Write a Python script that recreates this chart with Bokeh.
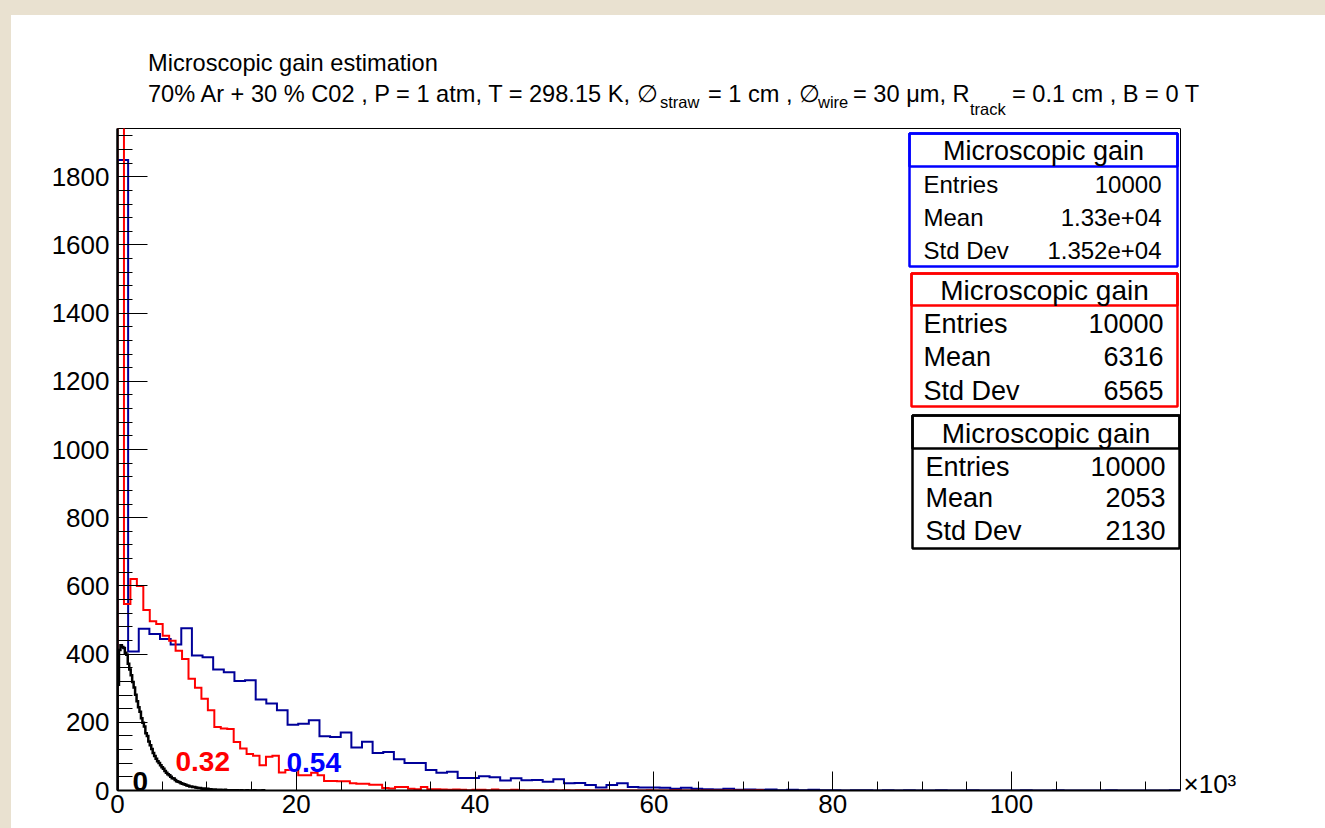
import numpy as np
from bokeh.plotting import figure
from bokeh.models import (Range1d, SingleIntervalTicker, FixedTicker, LinearAxis,
                          Label, BoxAnnotation, Div)
from bokeh.layouts import column
from bokeh.embed import file_html
from bokeh.resources import INLINE

# ---------------------------------------------------------------------------
# Histogram contents: 100 bins each, x in units of 10^3 (gain)
# ---------------------------------------------------------------------------
blue_upper = 118.9     # penning 0.54
red_upper = 72.2       # penning 0.32
black_upper = 16.4     # penning 0

blue_counts = [
    1849, 408, 474, 459, 444, 428, 476, 396, 391, 355,
    347, 321, 323, 267, 255, 235, 193, 196, 206, 159,
    157, 170, 126, 143, 110, 113, 92, 81, 81, 60,
    52, 55, 37, 37, 42, 39, 29, 36, 30, 31,
    26, 33, 21, 22, 16, 9, 16, 21, 10, 9,
    9, 8, 5, 8, 5, 4, 3, 5, 2, 3,
    2, 3, 1, 2, 1, 2, 1, 1, 0, 1,
    1, 0, 1, 0, 1, 0, 0, 1, 0, 0,
    1, 0, 0, 0, 0, 1, 0, 0, 1, 0,
    0, 0, 0, 1, 0, 0, 0, 0, 0, 1,
]

red_counts = [
    2400, 547, 620, 600, 529, 496, 488, 454, 439, 410,
    386, 328, 301, 269, 235, 186, 182, 180, 142, 123,
    107, 102, 74, 99, 102, 53, 60, 60, 45, 45,
    52, 45, 28, 28, 27, 27, 21, 20, 20, 17,
    17, 7, 6, 10, 10, 5, 4, 10, 4, 4,
    3, 2, 3, 2, 1, 2, 2, 1, 3, 1,
    1, 2, 1, 0, 1, 1, 0, 1, 0, 1,
    0, 1, 1, 0, 0, 1, 0, 0, 0, 0,
    0, 0, 1, 0, 0, 0, 1, 0, 0, 0,
    0, 0, 0, 0, 0, 0, 0, 0, 0, 1,
]

black_counts = [
    310, 412, 426, 421, 418, 404, 398, 372, 355, 338,
    318, 302, 281, 262, 244, 231, 212, 199, 188, 168,
    160, 144, 133, 122, 110, 101, 93, 86, 81, 74,
    68, 64, 57, 52, 48, 45, 40, 36, 35, 31,
    27, 26, 24, 21, 20, 18, 17, 15, 14, 12,
    12, 10, 10, 9, 8, 7, 7, 6, 5, 6,
    4, 5, 3, 4, 3, 2, 3, 2, 2, 1,
    2, 1, 1, 2, 1, 0, 1, 1, 0, 1,
    0, 1, 0, 0, 1, 0, 0, 0, 1, 0,
    0, 0, 0, 1, 0, 0, 0, 0, 0, 1,
]

curve_labels = ["0.54", "0.32", "0"]
stats_title = "Microscopic gain"
stats_rows = [
    [("Entries", "10000"), ("Mean", "1.33e+04"), ("Std Dev", "1.352e+04")],
    [("Entries", "10000"), ("Mean", "6316"), ("Std Dev", "6565")],
    [("Entries", "10000"), ("Mean", "2053"), ("Std Dev", "2130")],
]
x_multiplier = "\u00d710\u00b3"

# title pieces: (text, left px, baseline px, font px)
title_pieces = [
    ("Microscopic gain estimation", 148, 72, 23.6),
    ("70% Ar + 30 % C02 , P = 1 atm, T = 298.15 K, \u2205", 148, 103, 23.6),
    ("straw", 660, 108, 16.5),
    ("= 1 cm , \u2205", 708, 103, 23.6),
    ("wire", 818, 108, 16.5),
    ("= 30 \u03bcm, R", 853, 103, 23.6),
    ("track", 970, 115, 16.5),
    ("= 0.1 cm , B = 0 T", 1012, 103, 23.6),
]

FONT = "Liberation Sans"
NAVY, BLUE, RED, BLACK = "#000099", "#0000ff", "#ff0000", "#000000"
PAGE_BG = "#e9e1d0"

XMAX = blue_upper
YMAX = 1.05 * max(blue_counts)

# page geometry
OFF_X, OFF_Y = 11, 15                   # canvas position on the page
W, H = 1314, 813                        # canvas size
FL, FT, FR, FB = 117, 128, 1180, 790    # frame edges on the page
HEAD_H = FT - OFF_Y


def dx(px):
    return XMAX * (px - FL) / (FR - FL)


def dy(py):
    return YMAX * (FB - py) / (FB - FT)


# ---------------------------------------------------------------------------
# header strip holding the two title lines
# ---------------------------------------------------------------------------
spans = []
for text, px, base, size in title_pieces:
    top = (base - OFF_Y) - 0.8465 * size      # baseline offset for line-height 1
    spans.append(
        f'<span style="position:absolute;left:{px - OFF_X}px;top:{top:.1f}px;'
        f'font-size:{size}px;line-height:1;white-space:pre;">{text}</span>')
head = Div(text=(f'<div style="position:relative;width:{W}px;height:{HEAD_H}px;'
                 f'background:white;color:black;font-family:\'{FONT}\';">'
                 + "".join(spans) + "</div>"),
           width=W, height=HEAD_H, margin=(OFF_Y, 0, 0, OFF_X))

# ---------------------------------------------------------------------------
# main histogram panel
# ---------------------------------------------------------------------------
p = figure(width=W, height=H - HEAD_H, title=None,
           x_range=Range1d(0, XMAX), y_range=Range1d(0, YMAX),
           output_backend="svg", toolbar_location=None,
           min_border_left=FL - OFF_X, min_border_top=0,
           min_border_right=OFF_X + W - FR, min_border_bottom=OFF_Y + H - FB)
p.margin = (0, 0, 0, OFF_X)
p.background_fill_color = "white"
p.border_fill_color = "white"
p.outline_line_color = "black"
p.outline_line_width = 1
p.xgrid.visible = False
p.ygrid.visible = False

# axes: ROOT style, ticks pointing into the frame
p.xaxis.ticker = SingleIntervalTicker(interval=20, num_minor_ticks=4)
p.yaxis.ticker = SingleIntervalTicker(interval=200, num_minor_ticks=5)
for ax in (p.xaxis, p.yaxis):
    ax.major_tick_out = 0
    ax.minor_tick_out = 0
    ax.major_tick_line_color = "black"
    ax.minor_tick_line_color = "black"
    ax.major_label_text_font = FONT
    ax.major_label_text_font_size = "26px"
    ax.major_label_text_color = "black"
    ax.axis_line_color = "black"
p.xaxis.major_tick_in = 19
p.xaxis.minor_tick_in = 9
p.yaxis.major_tick_in = 30
p.yaxis.minor_tick_in = 15
p.xaxis.axis_line_width = 2
p.yaxis.axis_line_width = 2.5
p.xaxis.major_label_standoff = 4
p.yaxis.major_label_standoff = 8

# x-axis multiplier written at the right end of the x axis
mult_at = 20
mult_axis = LinearAxis(ticker=FixedTicker(ticks=[mult_at]),
                       major_label_overrides={mult_at: x_multiplier},
                       axis_line_color=None, major_tick_line_color=None,
                       minor_tick_line_color=None, major_tick_out=0, major_tick_in=0,
                       major_label_standoff=3,
                       major_label_text_font=FONT,
                       major_label_text_font_size="26px",
                       major_label_text_color="black")
p.add_layout(mult_axis, "right")


def outline(upper, counts):
    edges = np.linspace(0.0, upper, len(counts) + 1)
    xs = np.repeat(edges, 2)
    ys = np.concatenate([[0], np.repeat(np.asarray(counts, float), 2), [0]])
    return xs, ys


for upper, counts, color, lw in [(blue_upper, blue_counts, NAVY, 2),
                                 (red_upper, red_counts, RED, 2),
                                 (black_upper, black_counts, BLACK, 2.5)]:
    xs, ys = outline(upper, counts)
    p.line(xs, ys, line_color=color, line_width=lw, line_join="miter")


def label(text, px, py, size, color="black", align="left",
          baseline="alphabetic", style="normal"):
    # position given in page pixels, converted to frame-relative screen units
    p.add_layout(Label(x=px - FL, y=FB - py, x_units="screen", y_units="screen",
                       text=text, text_font=FONT,
                       text_font_size=size, text_color=color,
                       text_align=align, text_baseline=baseline,
                       text_font_style=style))


# curve labels
label(curve_labels[0], 286, 762, "28px", BLUE, style="bold")
label(curve_labels[1], 175, 761, "28px", RED, style="bold")
label(curve_labels[2], 132, 781, "28px", BLACK, style="bold")

# statistics boxes
boxes = [
    dict(color=BLUE, l=909, r=1177, t=133, b=266, sep=166, head="27px", body="24px",
         tx_l=923, tx_r=1161, rows_y=[184, 217, 250]),
    dict(color=RED, l=911, r=1177, t=273, b=406, sep=305, head="28px", body="27px",
         tx_l=923, tx_r=1163, rows_y=[323, 356, 390]),
    dict(color=BLACK, l=912, r=1179, t=415, b=548, sep=448, head="28px", body="27px",
         tx_l=925, tx_r=1165, rows_y=[466, 497, 530]),
]
for box, rows in zip(boxes, stats_rows):
    p.add_layout(BoxAnnotation(left=dx(box["l"]), right=dx(box["r"]),
                               top=dy(box["t"]), bottom=dy(box["b"]),
                               fill_color="white", fill_alpha=1.0,
                               line_color=box["color"], line_alpha=1.0,
                               line_width=2.5))
    p.add_layout(BoxAnnotation(left=dx(box["l"]), right=dx(box["r"]),
                               top=dy(box["t"]), bottom=dy(box["sep"]),
                               fill_alpha=0.0,
                               line_color=box["color"], line_alpha=1.0,
                               line_width=2.5))
    label(stats_title, (box["l"] + box["r"]) / 2, (box["t"] + box["sep"]) / 2 + 1,
          box["head"], align="center", baseline="middle")
    for (name, val), yy in zip(rows, box["rows_y"]):
        label(name, box["tx_l"], yy, box["body"], baseline="middle")
        label(val, box["tx_r"], yy, box["body"], align="right", baseline="middle")

# page: beige strips on the left and top, white canvas elsewhere
page_bg = (f"linear-gradient(to right, {PAGE_BG} {OFF_X}px, transparent {OFF_X}px), "
           f"linear-gradient(to bottom, {PAGE_BG} {OFF_Y}px, white {OFF_Y}px)")
root = column(head, p, spacing=0, styles={"background": page_bg})
open("out.html", "w").write(file_html(root, INLINE))
